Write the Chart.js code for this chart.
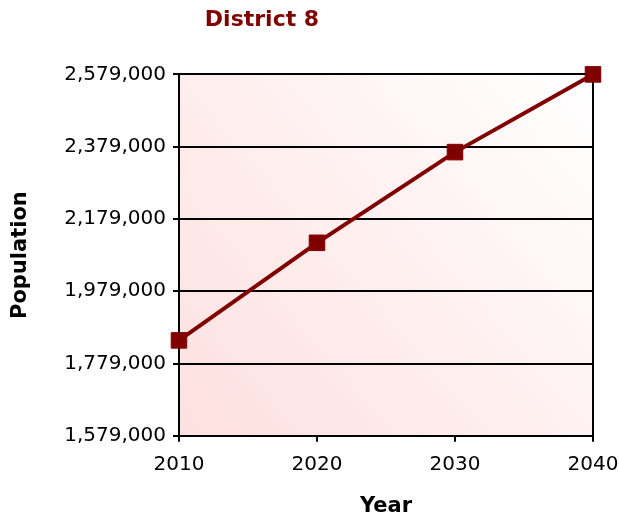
<!DOCTYPE html>
<html>
<head>
<meta charset="utf-8">
<script src="https://cdn.jsdelivr.net/npm/chart.js@4"></script>
<style>
  html, body { margin: 0; padding: 0; background: #fff; }
  #wrap { width: 619px; height: 519px; }
</style>
</head>
<body>
<div id="wrap"><canvas id="chart"></canvas></div>
<script>
// Data
const years = ['2010', '2020', '2030', '2040'];
const population = [1843000, 2113000, 2364000, 2579000];
const yTicks = [1579000, 1779000, 1979000, 2179000, 2379000, 2579000];

const darkRed = '#800000';

// pink gradient behind the plot area
const plotBackground = {
  id: 'plotBackground',
  beforeDraw(chart) {
    const { ctx, chartArea: a } = chart;
    const g = ctx.createLinearGradient(a.left, a.bottom, a.right, a.top);
    g.addColorStop(0, '#fde0df');
    g.addColorStop(1, '#ffffff');
    ctx.save();
    ctx.fillStyle = g;
    ctx.fillRect(a.left, a.top, a.right - a.left, a.bottom - a.top);
    ctx.restore();
  }
};

// the title in the original sits left of the canvas centre
const titleShift = {
  id: 'titleShift',
  afterLayout(chart) {
    const t = chart.titleBlock;
    if (t) { t.left = 0; t.right = 524; }
  }
};

new Chart(document.getElementById('chart'), {
  type: 'line',
  data: {
    labels: years,
    datasets: [{
      data: population,
      borderColor: darkRed,
      backgroundColor: darkRed,
      borderWidth: 4,
      pointStyle: 'rect',
      pointRadius: 11,
      pointBorderWidth: 1,
      tension: 0,
      clip: false
    }]
  },
  options: {
    responsive: true,
    maintainAspectRatio: false,
    animation: false,
    layout: { padding: { top: 0, right: 26, bottom: 0, left: 8 } },
    plugins: {
      legend: { display: false },
      tooltip: { enabled: false },
      title: {
        display: true,
        text: 'District 8',
        color: darkRed,
        font: { family: 'DejaVu Sans', size: 22, weight: 'bold' },
        padding: { top: 7, bottom: 41 }
      }
    },
    scales: {
      x: {
        type: 'category',
        offset: false,
        afterFit: (s) => { s.paddingRight = 0; },
        grid: {
          color: (c) => c.index === years.length - 1 ? '#000' : 'rgba(0,0,0,0)',
          tickColor: '#000',
          tickLength: 6,
          lineWidth: 2
        },
        border: { color: '#000', width: 2 },
        ticks: {
          color: '#000',
          font: { family: 'DejaVu Sans', size: 20 },
          padding: 11
        },
        title: {
          display: true,
          text: 'Year',
          color: '#000',
          font: { family: 'DejaVu Sans', size: 21, weight: 'bold' },
          padding: { top: 6, bottom: 0 }
        }
      },
      y: {
        min: yTicks[0],
        max: yTicks[yTicks.length - 1],
        afterBuildTicks: (axis) => { axis.ticks = yTicks.map(v => ({ value: v })); },
        grid: {
          color: '#000',
          tickColor: '#000',
          tickLength: 6,
          lineWidth: 2
        },
        border: { color: '#000', width: 2 },
        ticks: {
          color: '#000',
          font: { family: 'DejaVu Sans', size: 20 },
          padding: 7,
          callback: (v) => v.toLocaleString('en-US')
        },
        title: {
          display: true,
          text: 'Population',
          color: '#000',
          font: { family: 'DejaVu Sans', size: 21, weight: 'bold' },
          padding: { top: 0, bottom: 24 }
        }
      }
    }
  },
  plugins: [plotBackground, titleShift]
});
</script>
</body>
</html>
